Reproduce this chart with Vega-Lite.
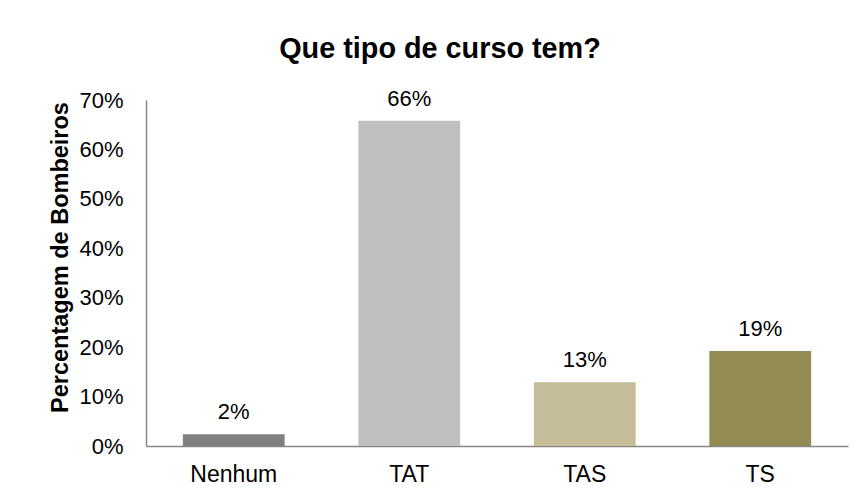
{
  "$schema": "https://vega.github.io/schema/vega-lite/v6.json",
  "width": 702,
  "height": 346,
  "autosize": {"type": "none"},
  "padding": {"left": 146, "top": 100, "right": 15, "bottom": 51},
  "background": "white",
  "title": {
    "text": "Que tipo de curso tem?",
    "font": "Liberation Sans",
    "fontSize": 28.8,
    "fontWeight": "bold",
    "color": "#000000",
    "anchor": "middle",
    "dx": -57,
    "offset": 24
  },
  "data": {
    "values": [
      {"curso": "Nenhum", "pct": 0.024},
      {"curso": "TAT", "pct": 0.658},
      {"curso": "TAS", "pct": 0.129},
      {"curso": "TS", "pct": 0.192}
    ]
  },
  "encoding": {
    "x": {
      "field": "curso",
      "type": "nominal",
      "sort": null,
      "scale": {"paddingInner": 0.42, "paddingOuter": 0.21},
      "axis": {
        "title": null,
        "labelAngle": 0,
        "labelFont": "Liberation Sans",
        "labelFontSize": 23,
        "labelColor": "#000000",
        "labelPadding": 17,
        "ticks": false,
        "domainColor": "#868686",
        "domainWidth": 1.5
      }
    },
    "y": {
      "field": "pct",
      "type": "quantitative",
      "scale": {"domain": [0, 0.7], "nice": false},
      "axis": {
        "title": "Percentagem de Bombeiros",
        "titleFont": "Liberation Sans",
        "titleFontSize": 23.5,
        "titleFontWeight": "bold",
        "titleColor": "#000000",
        "titlePadding": 6,
        "titleY": 157,
        "format": ".0%",
        "values": [0, 0.1, 0.2, 0.3, 0.4, 0.5, 0.6, 0.7],
        "labelFont": "Liberation Sans",
        "labelFontSize": 22,
        "labelColor": "#000000",
        "labelPadding": 23,
        "ticks": false,
        "grid": false,
        "domainColor": "#868686",
        "domainWidth": 1.5
      }
    }
  },
  "layer": [
    {
      "mark": {"type": "bar"},
      "encoding": {
        "color": {
          "field": "curso",
          "type": "nominal",
          "scale": {
            "domain": ["Nenhum", "TAT", "TAS", "TS"],
            "range": ["#808080", "#c0c0c0", "#c4bd97", "#948a54"]
          },
          "legend": null
        }
      }
    },
    {
      "mark": {
        "type": "text",
        "baseline": "bottom",
        "dy": -10,
        "font": "Liberation Sans",
        "fontSize": 22,
        "color": "#000000"
      },
      "encoding": {
        "text": {"field": "pct", "type": "quantitative", "format": ".0%"}
      }
    }
  ],
  "config": {"view": {"stroke": null}}
}
